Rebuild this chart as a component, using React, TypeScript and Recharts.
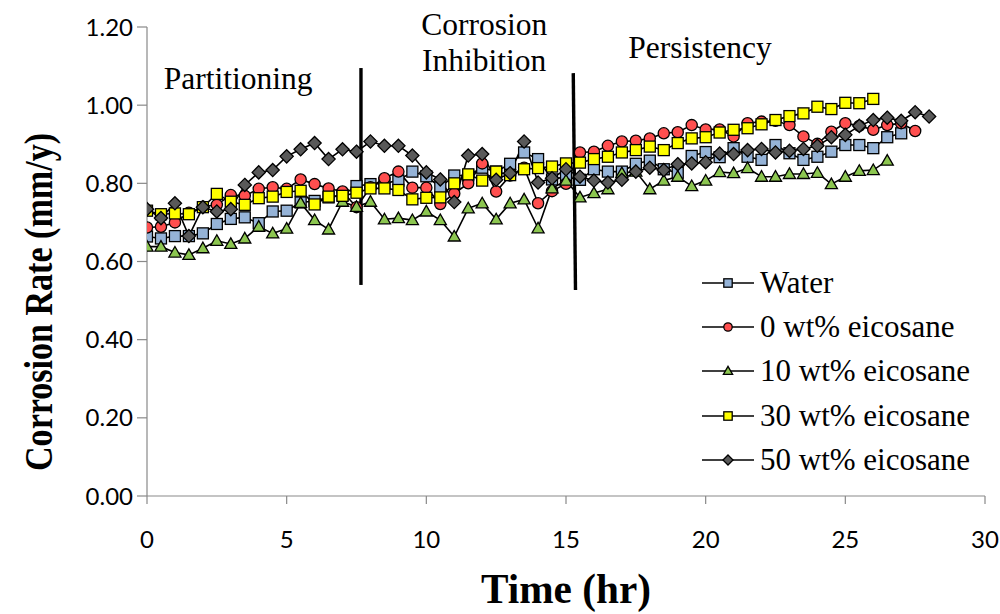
import React from 'react';
import { LineChart, Line, XAxis, YAxis, ReferenceLine, ReferenceDot, Legend } from 'recharts';

const TIMES = [0, 0.5, 1, 1.5, 2, 2.5, 3, 3.5, 4, 4.5, 5, 5.5, 6, 6.5, 7, 7.5, 8, 8.5, 9, 9.5, 10, 10.5, 11, 11.5, 12, 12.5, 13, 13.5, 14, 14.5, 15, 15.5, 16, 16.5, 17, 17.5, 18, 18.5, 19, 19.5, 20, 20.5, 21, 21.5, 22, 22.5, 23, 23.5, 24, 24.5, 25, 25.5, 26, 26.5, 27, 27.5, 28];

const WATER = [0.664, 0.659, 0.665, 0.665, 0.672, 0.696, 0.709, 0.713, 0.698, 0.728, 0.730, 0.751, 0.755, 0.764, 0.770, 0.793, 0.798, 0.800, 0.807, 0.830, 0.818, 0.790, 0.820, 0.820, 0.840, 0.830, 0.850, 0.879, 0.862, 0.810, 0.817, 0.809, 0.836, 0.830, 0.830, 0.850, 0.858, 0.836, 0.827, 0.870, 0.880, 0.867, 0.890, 0.868, 0.860, 0.898, 0.877, 0.860, 0.868, 0.881, 0.898, 0.898, 0.890, 0.918, 0.928];

const WT0 = [0.687, 0.689, 0.700, 0.725, 0.740, 0.745, 0.770, 0.768, 0.786, 0.790, 0.786, 0.810, 0.798, 0.787, 0.779, 0.739, 0.790, 0.813, 0.830, 0.789, 0.789, 0.747, 0.774, 0.800, 0.851, 0.779, 0.820, 0.840, 0.749, 0.780, 0.799, 0.879, 0.881, 0.896, 0.907, 0.909, 0.915, 0.928, 0.931, 0.949, 0.938, 0.938, 0.920, 0.954, 0.958, 0.960, 0.949, 0.920, 0.901, 0.932, 0.954, 0.947, 0.937, 0.949, 0.954, 0.934];

const WT10 = [0.638, 0.638, 0.623, 0.617, 0.634, 0.653, 0.645, 0.659, 0.689, 0.672, 0.684, 0.750, 0.706, 0.682, 0.753, 0.740, 0.753, 0.708, 0.711, 0.706, 0.728, 0.706, 0.664, 0.736, 0.749, 0.708, 0.749, 0.759, 0.685, 0.787, 0.807, 0.764, 0.775, 0.785, 0.826, 0.830, 0.785, 0.807, 0.817, 0.793, 0.807, 0.829, 0.826, 0.839, 0.817, 0.817, 0.824, 0.824, 0.827, 0.798, 0.817, 0.832, 0.834, 0.858];

const WT30 = [0.730, 0.721, 0.723, 0.721, 0.739, 0.773, 0.753, 0.745, 0.762, 0.766, 0.778, 0.781, 0.746, 0.766, 0.768, 0.776, 0.787, 0.787, 0.783, 0.759, 0.763, 0.764, 0.800, 0.823, 0.807, 0.830, 0.821, 0.836, 0.839, 0.843, 0.851, 0.853, 0.862, 0.868, 0.879, 0.885, 0.894, 0.885, 0.903, 0.915, 0.918, 0.930, 0.937, 0.941, 0.951, 0.962, 0.972, 0.979, 0.996, 0.990, 1.006, 1.005, 1.016];

const WT50 = [0.734, 0.711, 0.749, 0.665, 0.739, 0.728, 0.734, 0.796, 0.828, 0.834, 0.869, 0.887, 0.903, 0.862, 0.887, 0.881, 0.907, 0.896, 0.896, 0.871, 0.828, 0.810, 0.752, 0.871, 0.875, 0.809, 0.826, 0.907, 0.802, 0.813, 0.836, 0.817, 0.807, 0.802, 0.809, 0.830, 0.840, 0.834, 0.849, 0.851, 0.854, 0.876, 0.875, 0.885, 0.888, 0.879, 0.883, 0.888, 0.896, 0.918, 0.924, 0.947, 0.962, 0.968, 0.960, 0.982, 0.971];

const X_TICKS = [0, 5, 10, 15, 20, 25, 30];
const Y_TICKS = [0, 0.2, 0.4, 0.6, 0.8, 1.0, 1.2];

const SERIES_NAMES = ['Water', '0 wt% eicosane', '10 wt% eicosane', '30 wt% eicosane', '50 wt% eicosane'];
const SERIES_VALUES = [WATER, WT0, WT10, WT30, WT50];
const SERIES_FILLS = ['#95B3D7', '#FF4F4F', '#8CC650', '#FFFF00', '#595959'];
const SERIES_SHAPES = ['square', 'circle', 'triangle', 'square', 'diamond'];

const SERIES = SERIES_NAMES.map((name, i) => ({
  name,
  fill: SERIES_FILLS[i],
  shape: SERIES_SHAPES[i],
  data: SERIES_VALUES[i].map((v, j) => ({ t: TIMES[j], v })),
}));

const SERIF = '"Liberation Serif", "Times New Roman", serif';
const SANS = 'Lato, "Open Sans", sans-serif';

function Marker({ cx, cy, shape, fill, s }: { cx: number; cy: number; shape: string; fill: string; s: number }) {
  const sw = 1.3;
  if (shape === 'square') {
    return <rect x={cx - s} y={cy - s} width={2 * s} height={2 * s} fill={fill} stroke="#000" strokeWidth={sw} />;
  }
  if (shape === 'circle') {
    return <circle cx={cx} cy={cy} r={s} fill={fill} stroke="#000" strokeWidth={sw} />;
  }
  if (shape === 'triangle') {
    const h = s * 1.1;
    return (
      <polygon
        points={`${cx},${cy - h} ${cx - h},${cy + h * 0.75} ${cx + h},${cy + h * 0.75}`}
        fill={fill}
        stroke="#000"
        strokeWidth={sw}
      />
    );
  }
  const d = s * 1.2;
  return (
    <polygon
      points={`${cx},${cy - d} ${cx + d},${cy} ${cx},${cy + d} ${cx - d},${cy}`}
      fill={fill}
      stroke="#000"
      strokeWidth={sw}
    />
  );
}

function LegendContent() {
  return (
    <div style={{ fontFamily: SERIF, fontSize: 31, color: '#000' }}>
      {SERIES.map((s) => (
        <div key={s.name} style={{ display: 'flex', alignItems: 'center', height: 44.2, whiteSpace: 'nowrap' }}>
          <svg width={58} height={20} style={{ display: 'block' }}>
            <line x1={3} y1={10} x2={55} y2={10} stroke="#000" strokeWidth={1.6} />
            <Marker cx={29} cy={10} shape={s.shape} fill={s.fill} s={4.2} />
          </svg>
          <span style={{ marginLeft: 3, lineHeight: '32px' }}>{s.name}</span>
        </div>
      ))}
    </div>
  );
}

function YTitle() {
  const cx = 38;
  const cy = 302;
  return (
    <text
      x={cx}
      y={cy}
      transform={`rotate(-90 ${cx} ${cy})`}
      textAnchor="middle"
      dominantBaseline="central"
      fontFamily={SERIF}
      fontWeight="bold"
      fontSize={40}
      textLength={338}
      lengthAdjust="spacingAndGlyphs"
      fill="#000"
    >
      Corrosion Rate (mm/y)
    </text>
  );
}

function XTitle(props: any) {
  const vb = props.viewBox || { x: 147, y: 496, width: 838, height: 118 };
  return (
    <text
      x={vb.x + vb.width / 2}
      y={603}
      textAnchor="middle"
      fontFamily={SERIF}
      fontWeight="bold"
      fontSize={42}
      textLength={170}
      lengthAdjust="spacingAndGlyphs"
      fill="#000"
    >
      Time (hr)
    </text>
  );
}

const annoLabel = (value: string) => ({
  value,
  position: 'center' as const,
  fontFamily: SERIF,
  fontSize: 31.5,
  fill: '#000',
});

export default function App() {
  return (
    <div style={{ position: 'absolute', left: 0, top: 0, width: 1000, height: 614, background: '#fff' }}>
      <LineChart width={1000} height={614} margin={{ top: 27, right: 15, left: 0, bottom: 0 }}>
        <XAxis
          type="number"
          dataKey="t"
          domain={[0, 30]}
          ticks={X_TICKS}
          allowDataOverflow
          height={118}
          axisLine={{ stroke: '#898989', strokeWidth: 1.2 }}
          tickLine={{ stroke: '#898989', strokeWidth: 1.2 }}
          tickSize={8}
          tickMargin={27}
          tick={{ fill: '#000', fontSize: 24, fontFamily: SANS }}
          label={<XTitle />}
        />
        <YAxis
          type="number"
          domain={[0, 1.2]}
          ticks={Y_TICKS}
          width={147}
          axisLine={{ stroke: '#898989', strokeWidth: 1.2 }}
          tickLine={{ stroke: '#898989', strokeWidth: 1.2 }}
          tickSize={10}
          tickMargin={4}
          tickFormatter={(v: number) => v.toFixed(2)}
          tick={{ fill: '#000', fontSize: 24, fontFamily: SANS }}
          label={<YTitle />}
        />
        {SERIES.map((s) => (
          <Line
            key={s.name}
            name={s.name}
            data={s.data}
            dataKey="v"
            type="linear"
            stroke="#000"
            strokeWidth={1.6}
            isAnimationActive={false}
            legendType="none"
            dot={(p: any) => (
              <Marker key={`${s.name}-${p.index}`} cx={p.cx} cy={p.cy} shape={s.shape} fill={s.fill} s={s.shape === 'circle' ? 5.6 : 5.5} />
            )}
            activeDot={false}
          />
        ))}
        <ReferenceLine
          segment={[{ x: 7.66, y: 0.54 }, { x: 7.66, y: 1.095 }]}
          stroke="#000"
          strokeWidth={3.4}
          ifOverflow="visible"
        />
        <ReferenceLine
          segment={[{ x: 15.34, y: 0.527 }, { x: 15.26, y: 1.082 }]}
          stroke="#000"
          strokeWidth={3.4}
          ifOverflow="visible"
        />
        <ReferenceDot x={3.26} y={1.07} r={0} fill="none" stroke="none" ifOverflow="visible" label={annoLabel('Partitioning')} />
        <ReferenceDot x={12.07} y={1.208} r={0} fill="none" stroke="none" ifOverflow="visible" label={annoLabel('Corrosion')} />
        <ReferenceDot x={12.07} y={1.116} r={0} fill="none" stroke="none" ifOverflow="visible" label={annoLabel('Inhibition')} />
        <ReferenceDot x={19.8} y={1.149} r={0} fill="none" stroke="none" ifOverflow="visible" label={annoLabel('Persistency')} />
        <Legend
          layout="horizontal"
          verticalAlign="middle"
          align="center"
          content={<LegendContent />}
          wrapperStyle={{ position: 'absolute', left: 699, top: 261, width: 300, height: 225 }}
        />
      </LineChart>
    </div>
  );
}
